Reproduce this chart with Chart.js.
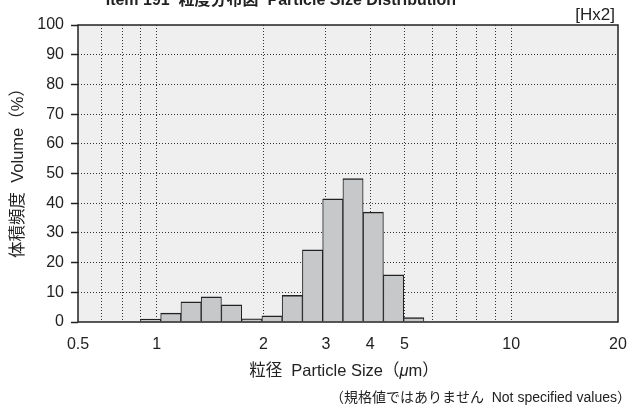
<!DOCTYPE html>
<html><head><meta charset="utf-8">
<script src="https://cdn.jsdelivr.net/npm/chart.js@4.4.1/dist/chart.umd.min.js"></script>
<style>html,body{margin:0;padding:0;background:#fff;}#wrap{position:relative;width:630px;height:408px;}</style>
</head><body><div id="wrap"><canvas id="c" width="630" height="408"></canvas></div>
<script>
// Particle size bin centres (µm) and volume frequency (%)
const binCenters = [0.961, 1.096, 1.250, 1.426, 1.626, 1.855, 2.115, 2.413, 2.752, 3.138, 3.579, 4.082, 4.656, 5.310];
const volume     = [1.0, 3.0, 6.8, 8.5, 5.8, 1.1, 2.1, 9.0, 24.3, 41.5, 48.3, 37.0, 15.9, 1.5];
// x-axis ticks (grid positions) and their labels
const xTickValues = [0.6, 0.7, 0.8, 0.9, 1, 2, 3, 4, 5, 6, 7, 8, 9, 10, 20];
const xLabelValues = [0.6, 1, 2, 3, 4, 5, 10, 20];
const xLabelTexts  = ['0.5', '1', '2', '3', '4', '5', '10', '20'];
const yMin = 0, yMax = 100, yStep = 10;

const titleText = 'Item 191  粒度分布図  Particle Size Distribution';
const codeText = '[Hx2]';
const xTitleParts = ['粒径  Particle Size（', 'μ', 'm）'];
const yTitleText = '体積頻度  Volume（%）';
const noteText = '（規格値ではありません  Not specified values）';

const LAT = '"Liberation Sans", "Noto Sans CJK JP", sans-serif';
const INK = '#222';

const deco = {
  id: 'deco',
  beforeDraw(chart) {
    const {ctx, chartArea: a} = chart;
    ctx.save();
    ctx.fillStyle = '#efefef';
    ctx.fillRect(a.left, a.top, a.right - a.left, a.bottom - a.top);
    ctx.restore();
  },
  afterDatasetsDraw(chart) {
    const {ctx, chartArea: a} = chart;
    ctx.save();
    ctx.strokeStyle = INK;
    ctx.lineWidth = 1.5;
    ctx.strokeRect(a.left, a.top, a.right - a.left, a.bottom - a.top);
    ctx.restore();
  },
  afterDraw(chart) {
    const {ctx} = chart;
    ctx.save();
    ctx.fillStyle = INK;
    // top (cut) title
    ctx.font = 'bold 16px ' + LAT;
    ctx.textAlign = 'right';
    ctx.textBaseline = 'alphabetic';
    ctx.fillText(titleText, 456, 5);
    // code
    ctx.font = '17px ' + LAT;
    ctx.textBaseline = 'middle';
    ctx.fillText(codeText, 615, 15);
    // x title
    const fN = '16.5px ' + LAT, fI = 'italic 16.5px ' + LAT;
    ctx.font = fN; const w0 = ctx.measureText(xTitleParts[0]).width;
    ctx.font = fI; const w1 = ctx.measureText(xTitleParts[1]).width;
    ctx.font = fN; const w2 = ctx.measureText(xTitleParts[2]).width;
    let x = 344 - (w0 + w1 + w2) / 2;
    ctx.textAlign = 'left';
    ctx.font = fN; ctx.fillText(xTitleParts[0], x, 371); x += w0;
    ctx.font = fI; ctx.fillText(xTitleParts[1], x, 371); x += w1;
    ctx.font = fN; ctx.fillText(xTitleParts[2], x, 371);
    // y title
    ctx.save();
    ctx.translate(18, 169);
    ctx.rotate(-Math.PI / 2);
    ctx.textAlign = 'center';
    ctx.font = fN;
    ctx.fillText(yTitleText, 0, 0);
    ctx.restore();
    // footnote
    ctx.font = '14px ' + LAT;
    ctx.textAlign = 'right';
    ctx.fillText(noteText, 631, 398);
    ctx.restore();
  }
};

new Chart(document.getElementById('c'), {
  type: 'bar',
  data: {
    datasets: [{
      data: binCenters.map((s, i) => ({x: s, y: volume[i]})),
      backgroundColor: '#c7c8ca',
      borderColor: INK,
      borderWidth: {top: 1.5, left: 1, right: 1, bottom: 0},
      borderSkipped: false,
      barThickness: 'flex',
      barPercentage: 1,
      categoryPercentage: 1
    }]
  },
  options: {
    responsive: false,
    animation: false,
    devicePixelRatio: 1,
    layout: {padding: {left: 0, top: 25, right: 12, bottom: 0}},
    plugins: {legend: {display: false}, tooltip: {enabled: false}, title: {display: false}},
    scales: {
      x: {
        type: 'logarithmic',
        min: 0.6, max: 20,
        offset: false,
        afterBuildTicks: (s) => { s.ticks = xTickValues.map(v => ({value: v})); },
        afterFit: (s) => { s.height = 86; s.paddingLeft = 0; s.paddingRight = 0; },
        ticks: {
          autoSkip: false, maxRotation: 0, minRotation: 0,
          padding: 13,
          color: INK,
          font: {family: LAT, size: 16},
          callback: (v) => { const i = xLabelValues.indexOf(v); return i >= 0 ? xLabelTexts[i] : ''; }
        },
        grid: {
          offset: false,
          drawTicks: false,
          lineWidth: 1,
          color: (c) => (c.tick && (c.tick.value === 0.6 || c.tick.value === 20)) ? 'rgba(0,0,0,0)' : '#333'
        },
        border: {display: false, dash: [1, 2]}
      },
      y: {
        min: yMin, max: yMax,
        afterFit: (s) => { s.width = 78; s.paddingTop = 0; s.paddingBottom = 0; },
        ticks: {
          stepSize: yStep,
          padding: 7,
          color: INK,
          font: {family: LAT, size: 16}
        },
        grid: {
          drawTicks: true,
          tickLength: 7,
          tickColor: INK,
          tickWidth: 1.5,
          tickBorderDash: [],
          lineWidth: 1,
          color: (c) => (c.tick && (c.tick.value === yMin || c.tick.value === yMax)) ? 'rgba(0,0,0,0)' : '#333'
        },
        border: {display: false, dash: [1, 2]}
      }
    }
  },
  plugins: [deco]
});
</script></body></html>
